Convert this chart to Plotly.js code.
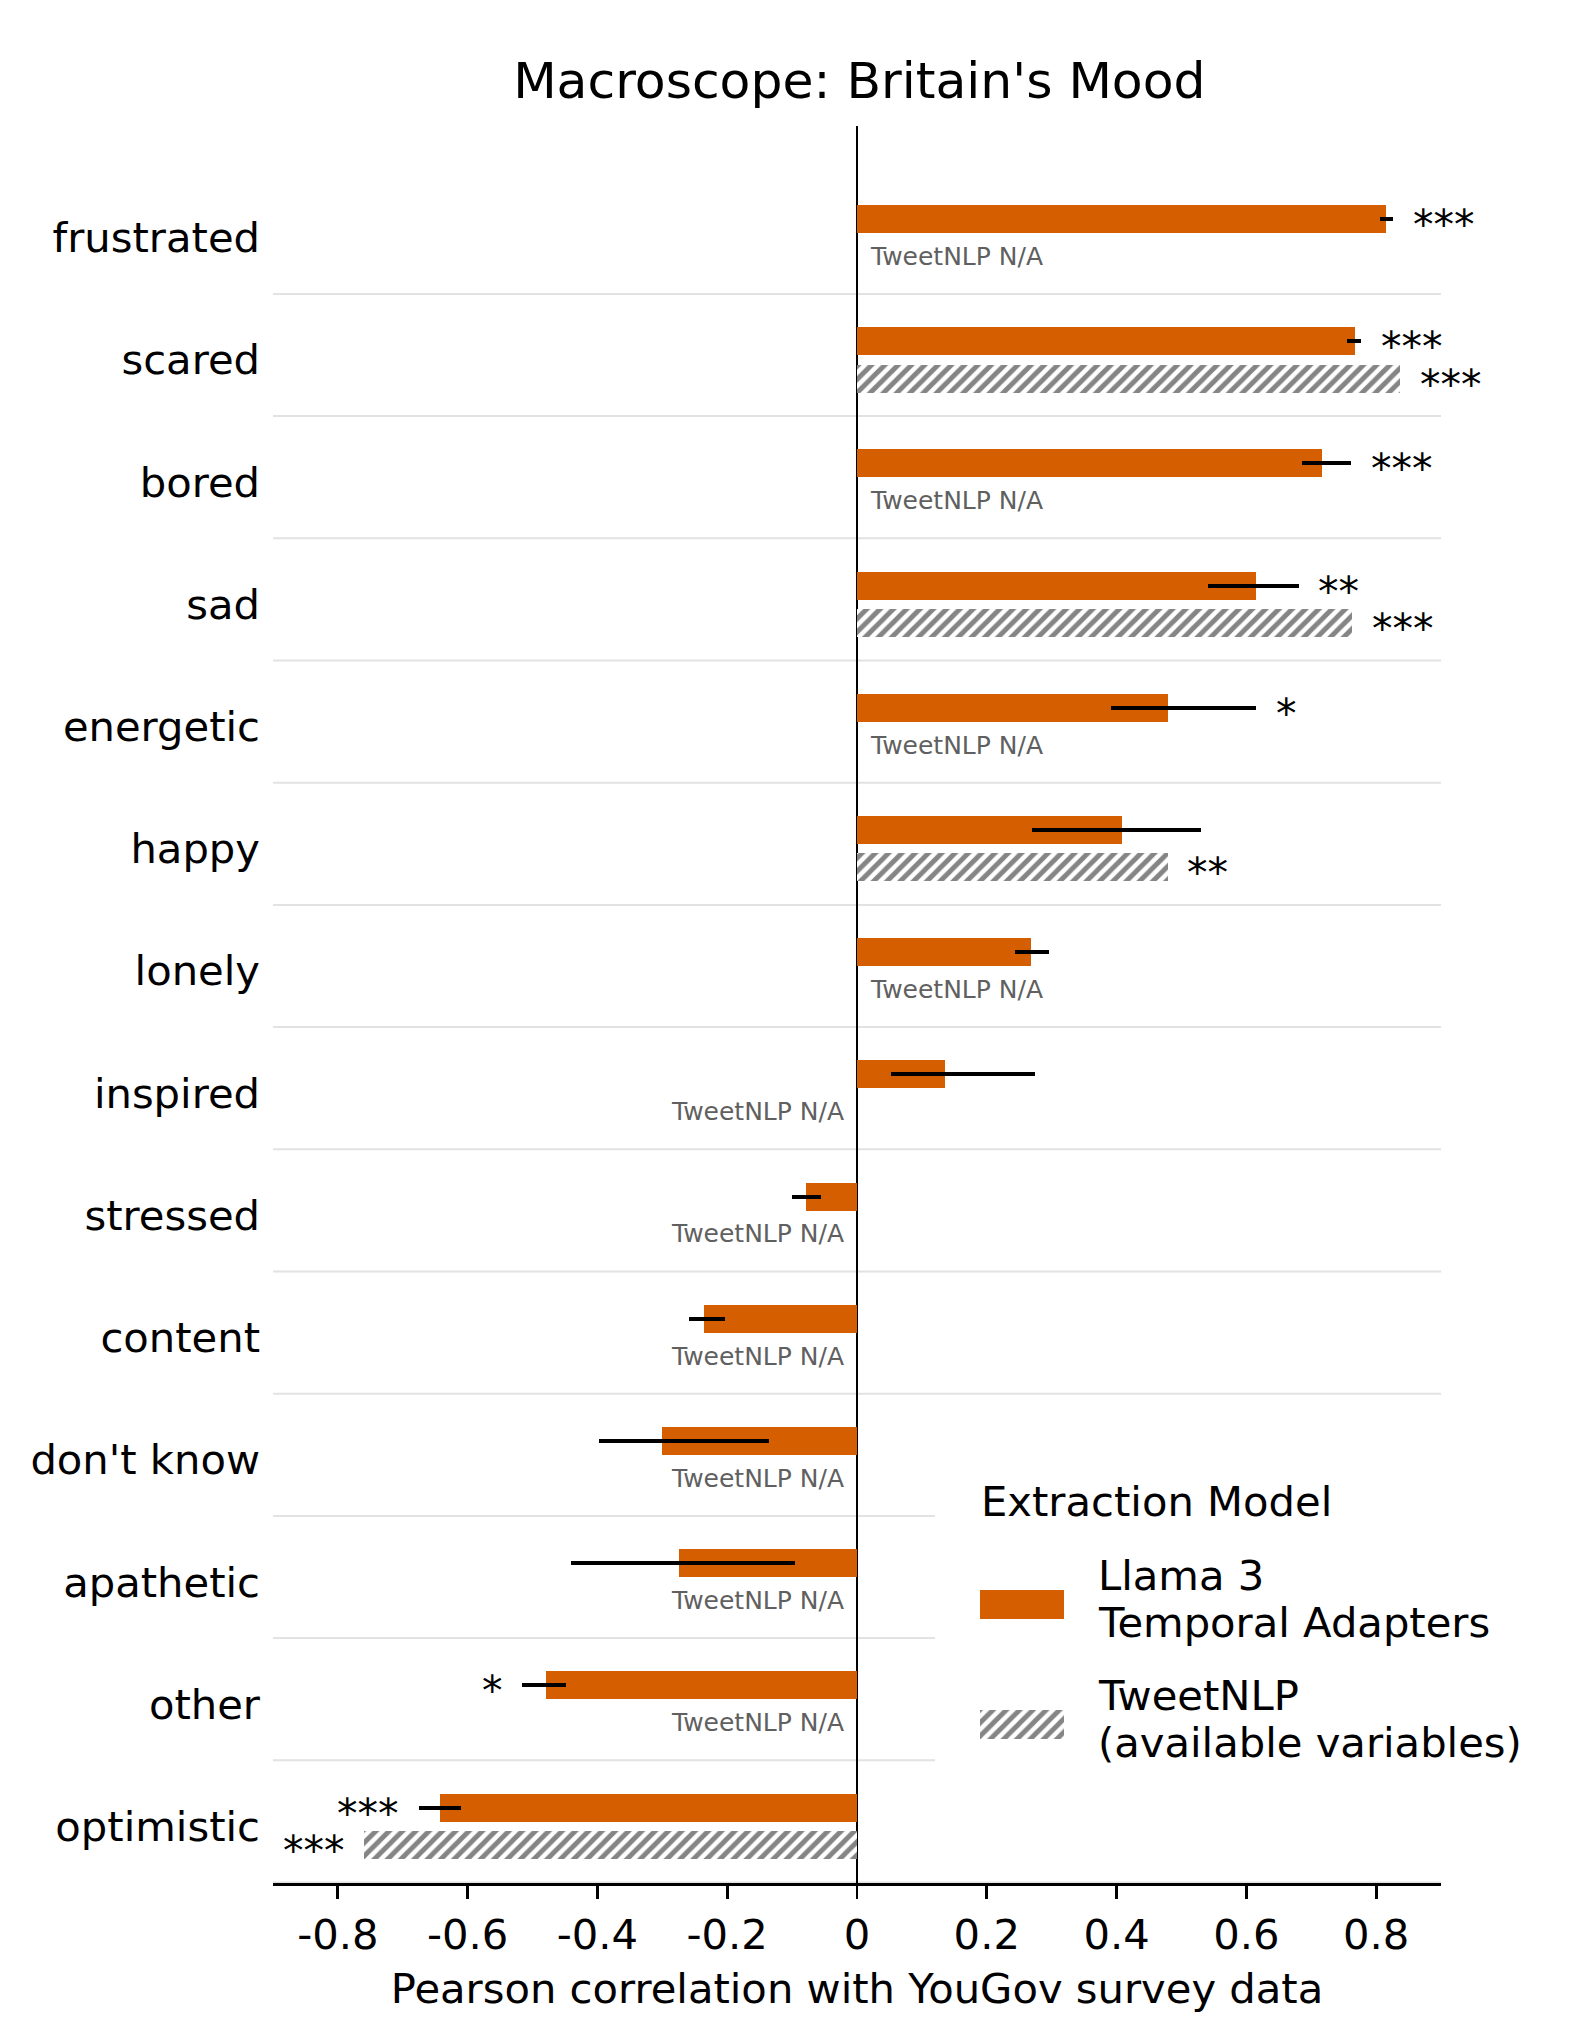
<!DOCTYPE html>
<html>
<head>
<meta charset="utf-8">
<script src="https://cdn.plot.ly/plotly-3.0.1.min.js"></script>
<style>
  html, body { margin: 0; padding: 0; background: #ffffff; }
  #chart { width: 1595px; height: 2043px; }
</style>
</head>
<body>
<div id="chart"></div>
<script>
// ---------------- data ----------------
const categories = ["frustrated", "scared", "bored", "sad", "energetic", "happy", "lonely",
                    "inspired", "stressed", "content", "don't know", "apathetic", "other", "optimistic"];
const llamaR      = [0.815, 0.767, 0.716, 0.615, 0.479, 0.408, 0.268, 0.136, -0.078, -0.236, -0.301, -0.274, -0.480, -0.642];
const llamaCILow  = [0.806, 0.755, 0.686, 0.541, 0.392, 0.270, 0.244, 0.053, -0.100, -0.259, -0.398, -0.440, -0.516, -0.675];
const llamaCIHigh = [0.826, 0.777, 0.762, 0.681, 0.615, 0.530, 0.296, 0.274, -0.055, -0.203, -0.135, -0.095, -0.449, -0.611];
const llamaStars  = ["***", "***", "***", "**", "*", "", "", "", "", "", "", "", "*", "***"];
const tweetR      = [null, 0.837, null, 0.763, null, 0.479, null, null, null, null, null, null, null, -0.759];
const tweetStars  = ["", "***", "", "***", "", "**", "", "", "", "", "", "", "", "***"];
const naSide      = ["right", "", "right", "", "right", "", "right", "left", "left", "left", "left", "left", "left", ""];
const xTickVals   = [-0.8, -0.6, -0.4, -0.2, 0, 0.2, 0.4, 0.6, 0.8];
const xTickText   = ["-0.8", "-0.6", "-0.4", "-0.2", "0", "0.2", "0.4", "0.6", "0.8"];
const legendTitle = "Extraction Model";
const legendNames = [["Llama 3", "Temporal Adapters"], ["TweetNLP", "(available variables)"]];
const chartTitle  = "Macroscope: Britain's Mood";
const xTitle      = "Pearson correlation with YouGov survey data";

// ---------------- styling ----------------
const ORANGE = "#D55E00";
const HATCH = "#858585";
const FONT = "DejaVu Sans, Verdana, sans-serif";
const W = 1595, H = 2043;
const M = { l: 273, r: 154, t: 126, b: 160 };
const PW = W - M.l - M.r, PH = H - M.t - M.b;
const px2x = p => (p - M.l) / PW;
const px2y = p => (H - M.b - p) / PH;

const OFF = 0.153;   // bar offset from category centre
const BW = 0.229;    // bar thickness
const idx = categories.map((_, i) => i);
const hatchPattern = { shape: "/", fgcolor: HATCH, bgcolor: "#ffffff", fgopacity: 1,
                       size: 9.4, solidity: 0.52, fillmode: "replace" };

const traces = [];
traces.push({
  type: "bar", orientation: "h",
  x: llamaR, y: idx.map(i => i - OFF), width: BW,
  marker: { color: ORANGE, line: { width: 0 } },
  error_x: {
    type: "data", symmetric: false,
    array: llamaR.map((v, i) => llamaCIHigh[i] - v),
    arrayminus: llamaR.map((v, i) => v - llamaCILow[i]),
    color: "#000000", thickness: 4, width: 0
  },
  showlegend: false, hoverinfo: "skip"
});
traces.push({
  type: "bar", orientation: "h",
  x: tweetR, y: idx.map(i => i + OFF), width: BW,
  marker: { color: "#ffffff", line: { width: 0 }, pattern: hatchPattern },
  showlegend: false, hoverinfo: "skip"
});
// legend swatches on a small helper axis
traces.push({
  type: "bar", orientation: "h", xaxis: "x2", yaxis: "y2",
  x: [1], y: [0.9025], width: 0.195, base: 0,
  marker: { color: ORANGE, line: { width: 0 } }, showlegend: false, hoverinfo: "skip"
});
traces.push({
  type: "bar", orientation: "h", xaxis: "x2", yaxis: "y2",
  x: [1], y: [0.0975], width: 0.195, base: 0,
  marker: { color: "#ffffff", line: { width: 0 }, pattern: hatchPattern },
  showlegend: false, hoverinfo: "skip"
});

// ---------------- annotations ----------------
const ann = [];
const STAR_GAP = 0.027;
function starAnn(x, y, text, side) {
  ann.push({ x: x, y: y, xref: "x", yref: "y", text: text, showarrow: false,
             xanchor: side, yanchor: "middle", yshift: -6,
             font: { family: FONT, size: 41, color: "#000000" } });
}
categories.forEach((c, i) => {
  const v = llamaR[i];
  if (llamaStars[i]) {
    if (v >= 0) starAnn(Math.max(v, llamaCIHigh[i]) + STAR_GAP, i - OFF, llamaStars[i], "left");
    else starAnn(Math.min(v, llamaCILow[i]) - STAR_GAP, i - OFF, llamaStars[i], "right");
  }
  const t = tweetR[i];
  if (t !== null && tweetStars[i]) {
    if (t >= 0) starAnn(t + STAR_GAP, i + OFF, tweetStars[i], "left");
    else starAnn(t - STAR_GAP, i + OFF, tweetStars[i], "right");
  }
  if (naSide[i]) {
    ann.push({ x: naSide[i] === "right" ? 0.017 : -0.017, y: i + OFF, xref: "x", yref: "y",
               text: "TweetNLP N/A", showarrow: false,
               xanchor: naSide[i] === "right" ? "left" : "right", yanchor: "middle",
               font: { family: FONT, size: 25, color: "#606060" } });
  }
});
// legend texts
const LFS = 41.7;
function legText(text, leftPx, baselinePx) {
  ann.push({ x: px2x(leftPx), y: px2y(baselinePx - 0.345 * LFS), xref: "paper", yref: "paper",
             text: text, showarrow: false, xanchor: "left", yanchor: "middle",
             font: { family: FONT, size: LFS, color: "#000000" } });
}
legText(legendTitle, 979, 1516);
legText(legendNames[0][0], 1096, 1590);
legText(legendNames[0][1], 1096, 1637);
legText(legendNames[1][0], 1096, 1710);
legText(legendNames[1][1], 1096, 1757);

// ---------------- shapes ----------------
const shapes = [];
idx.forEach(i => {
  shapes.push({ type: "line", xref: "paper", yref: "y", x0: 0, x1: 1, y0: i + 0.46, y1: i + 0.46,
                line: { color: "#e2e2e2", width: 2 }, layer: "below" });
});
// legend background (hides separators behind legend box)
shapes.push({ type: "rect", xref: "paper", yref: "paper",
              x0: px2x(935), x1: 1.0, y0: px2y(1850), y1: px2y(1430),
              fillcolor: "#ffffff", line: { width: 0 }, layer: "below" });

const layout = {
  width: W, height: H,
  margin: M,
  paper_bgcolor: "#ffffff", plot_bgcolor: "rgba(0,0,0,0)",
  font: { family: FONT, color: "#000000" },
  title: { text: chartTitle, font: { family: FONT, size: 50.4, color: "#000000" },
           x: 0.502, xref: "paper", xanchor: "center", y: 1 - 80 / H, yref: "container", yanchor: "middle" },
  showlegend: false,
  bargap: 0,
  xaxis: {
    range: [-0.9, 0.9], tickvals: xTickVals, ticktext: xTickText,
    tickfont: { family: FONT, size: 41.7, color: "#000000" },
    ticks: "outside", ticklen: 13, tickwidth: 2.8, tickcolor: "#000000",
    showline: true, linecolor: "#000000", linewidth: 3, mirror: false,
    showgrid: false, zeroline: true, zerolinecolor: "#000000", zerolinewidth: 2,
    title: { text: xTitle, font: { family: FONT, size: 41.7, color: "#000000" }, standoff: 16 },
    fixedrange: true
  },
  yaxis: {
    range: [13.464, -0.914], tickvals: idx, ticktext: categories,
    tickfont: { family: FONT, size: 41.7, color: "#000000" },
    ticks: "", showline: false, showgrid: false, zeroline: false,
    ticklabelstandoff: 12, fixedrange: true
  },
  xaxis2: { domain: [px2x(980), px2x(1064)], range: [0, 1], anchor: "y2", visible: false, fixedrange: true },
  yaxis2: { domain: [px2y(1739), px2y(1590)], range: [0, 1], anchor: "x2", visible: false, fixedrange: true },
  annotations: ann,
  shapes: shapes
};

Plotly.newPlot("chart", traces, layout, { displayModeBar: false, staticPlot: true });
</script>
</body>
</html>
